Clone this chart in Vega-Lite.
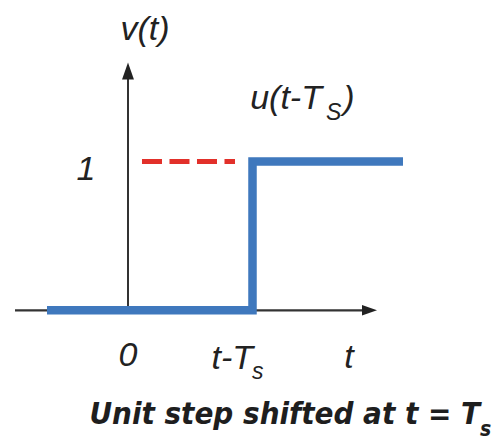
{
  "$schema": "https://vega.github.io/schema/vega-lite/v6.json",
  "width": 494,
  "height": 440,
  "padding": 0,
  "autosize": {"type": "fit", "contains": "padding"},
  "background": "white",
  "config": {"view": {"stroke": null}},
  "datasets": {
    "xaxis": [{"x": -0.9076, "y": 0}, {"x": 1.93, "y": 0}],
    "yaxis": [{"x": 0, "y": 0}, {"x": 0, "y": 1.58}],
    "step": [{"x": -0.6506, "y": 0}, {"x": 1, "y": 0}, {"x": 1, "y": 1}, {"x": 2.2088, "y": 1}],
    "dash": [{"x": 0.1124, "y": 1}, {"x": 0.8594, "y": 1}],
    "arrowUp": [{"x": 0, "y": 1.6067}],
    "arrowRight": [{"x": 1.9398, "y": 0}],
    "labelsCenter": [
      {"label": "v(t)", "x": 0.1365, "y": 1.8167},
      {"label": "1", "x": -0.3373, "y": 0.8767},
      {"label": "0", "x": 0, "y": -0.3767},
      {"label": "t", "x": 1.775, "y": -0.39},
      {"label": ")", "x": 1.775, "y": 1.35}
    ],
    "labelsRight": [
      {"label": "t-T", "x": 1.004, "y": -0.3967},
      {"label": "u(t-T", "x": 1.558, "y": 1.35}
    ],
    "subs": [
      {"label": "s", "x": 0.996, "y": -0.4633},
      {"label": "S", "x": 1.59, "y": 1.2767}
    ],
    "caption": [{"label": "Unit step shifted at t = T", "x": 2.8281, "y": -0.7633}],
    "captionSub": [{"label": "s", "x": 2.827, "y": -0.8433}]
  },
  "encoding": {
    "x": {"field": "x", "type": "quantitative", "scale": {"domain": [-1.0281, 2.9398], "nice": false, "zero": false}, "axis": null},
    "y": {"field": "y", "type": "quantitative", "scale": {"domain": [-0.85, 2.0833], "nice": false, "zero": false}, "axis": null}
  },
  "layer": [
    {"data": {"name": "xaxis"}, "mark": {"type": "line", "color": "#333333", "strokeWidth": 2.2}},
    {"data": {"name": "yaxis"}, "mark": {"type": "line", "color": "#333333", "strokeWidth": 2}},
    {"data": {"name": "arrowUp"}, "mark": {"type": "point", "shape": "M0,-1L0.7,1L-0.7,1Z", "size": 289, "filled": true, "color": "#222222", "opacity": 1}},
    {"data": {"name": "arrowRight"}, "mark": {"type": "point", "shape": "M1,0L-1,0.7L-1,-0.7Z", "size": 225, "filled": true, "color": "#222222", "opacity": 1}},
    {"data": {"name": "dash"}, "mark": {"type": "line", "color": "#e2302a", "strokeWidth": 5, "strokeDash": [20, 7.5]}},
    {"data": {"name": "step"}, "mark": {"type": "line", "color": "#3f78bd", "strokeWidth": 8.5, "strokeJoin": "miter", "strokeCap": "butt"}},
    {"data": {"name": "labelsCenter"}, "mark": {"type": "text", "align": "center", "baseline": "alphabetic", "font": "Liberation Sans", "fontStyle": "italic", "fontSize": 34, "color": "#222222"}, "encoding": {"text": {"field": "label"}}},
    {"data": {"name": "labelsRight"}, "mark": {"type": "text", "align": "right", "baseline": "alphabetic", "font": "Liberation Sans", "fontStyle": "italic", "fontSize": 34, "color": "#222222"}, "encoding": {"text": {"field": "label"}}},
    {"data": {"name": "subs"}, "mark": {"type": "text", "align": "left", "baseline": "alphabetic", "font": "Liberation Sans", "fontStyle": "italic", "fontSize": 23, "color": "#222222"}, "encoding": {"text": {"field": "label"}}},
    {"data": {"name": "caption"}, "mark": {"type": "text", "align": "right", "baseline": "alphabetic", "font": "DejaVu Sans Condensed, sans-serif", "fontStyle": "italic", "fontWeight": "bold", "fontSize": 31, "color": "#1e1e1e"}, "encoding": {"text": {"field": "label"}}},
    {"data": {"name": "captionSub"}, "mark": {"type": "text", "align": "left", "baseline": "alphabetic", "font": "DejaVu Sans Condensed, sans-serif", "fontStyle": "italic", "fontWeight": "bold", "fontSize": 21, "color": "#1e1e1e"}, "encoding": {"text": {"field": "label"}}}
  ]
}
